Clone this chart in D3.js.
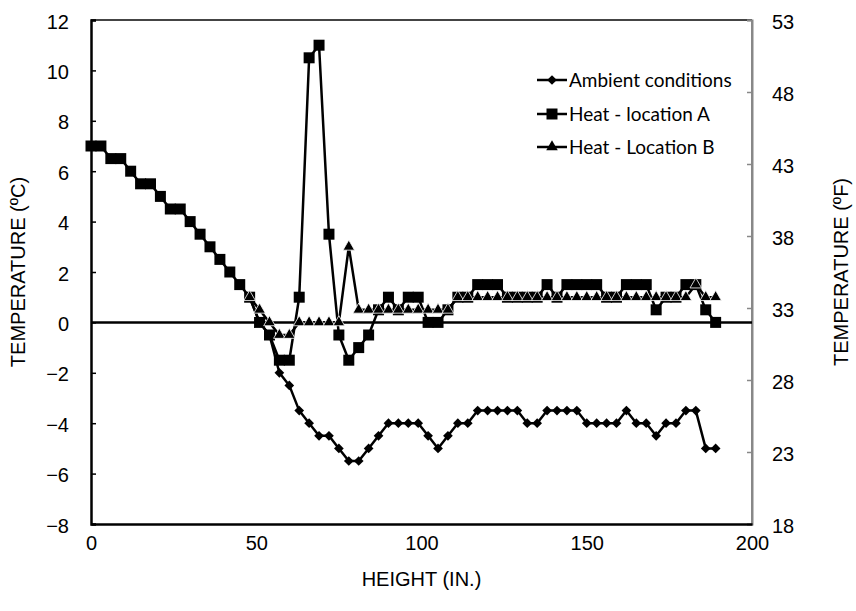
<!DOCTYPE html>
<html><head><meta charset="utf-8">
<script src="https://cdn.jsdelivr.net/npm/d3@7"></script>
<style>
body{margin:0;background:#fff;}
svg{display:block;}
</style></head>
<body>
<svg id="chart" width="856" height="611"></svg>
<script>
const heights = [0,3,6,9,12,15,18,21,24,27,30,33,36,39,42,45,48,51,54,57,60,63,66,69,72,75,78,81,84,87,90,93,96,99,102,105,108,111,114,117,120,123,126,129,132,135,138,141,144,147,150,153,156,159,162,165,168,171,174,177,180,183,186,189];
const ambient = [null,null,null,null,null,null,null,null,null,null,null,null,null,null,null,null,1,0,-0.5,-2,-2.5,-3.5,-4,-4.5,-4.5,-5,-5.5,-5.5,-5,-4.5,-4,-4,-4,-4,-4.5,-5,-4.5,-4,-4,-3.5,-3.5,-3.5,-3.5,-3.5,-4,-4,-3.5,-3.5,-3.5,-3.5,-4,-4,-4,-4,-3.5,-4,-4,-4.5,-4,-4,-3.5,-3.5,-5,-5];
const heatA = [7,7,6.5,6.5,6,5.5,5.5,5,4.5,4.5,4,3.5,3,2.5,2,1.5,1,0,-0.5,-1.5,-1.5,1,10.5,11,3.5,-0.5,-1.5,-1,-0.5,0.5,1,0.5,1,1,0,0,0.5,1,1,1.5,1.5,1.5,1,1,1,1,1.5,1,1.5,1.5,1.5,1.5,1,1,1.5,1.5,1.5,0.5,1,1,1.5,1.5,0.5,0];
const heatB = [null,null,null,null,null,null,null,null,null,null,null,null,null,null,null,null,1,0.5,0,-0.5,-0.5,0,0,0,0,0,3,0.5,0.5,0.5,0.5,0.5,0.5,0.5,0.5,0.5,0.5,1,1,1,1,1,1,1,1,1,1,1,1,1,1,1,1,1,1,1,1,1,1,1,1,1.5,1,1];
const seriesNames = ["Ambient conditions","Heat - location A","Heat - Location B"];
const xTicks = [0,50,100,150,200];
const yTicksC = [-8,-6,-4,-2,0,2,4,6,8,10,12];
const yTicksF = [18,23,28,33,38,43,48,53];

const svg = d3.select("#chart");
const L = 91, R = 752, T = 20, B = 524;
const x = d3.scaleLinear().domain([0,200]).range([L,R]);
const y = d3.scaleLinear().domain([-8,12]).range([B,T]);
const yF = d3.scaleLinear().domain([18,53]).range([B,T]);

const tickFont = "Arial, 'Liberation Sans', sans-serif";

svg.append("line").attr("x1",L).attr("x2",R).attr("y1",T).attr("y2",T).attr("stroke","#444").attr("stroke-width",2);
svg.append("line").attr("x1",R).attr("x2",R).attr("y1",T).attr("y2",B).attr("stroke","#888").attr("stroke-width",2);

const gL = svg.append("g").attr("transform",`translate(${L},0)`)
  .call(d3.axisLeft(y).tickValues(yTicksC).tickSize(-5).tickPadding(22).tickFormat(d3.format("d")));
gL.attr("font-family",tickFont);
gL.select(".domain").attr("stroke","#000").attr("stroke-width",2.5);
gL.selectAll(".tick line").attr("stroke","#000").attr("stroke-width",1.5);
gL.selectAll(".tick text").attr("font-family",tickFont).attr("font-size",20).attr("fill","#000").attr("dy","0.4em");

const gR = svg.append("g").attr("transform",`translate(${R},0)`)
  .call(d3.axisRight(yF).tickValues(yTicksF).tickSize(-5).tickPadding(20).tickFormat(d3.format("d")));
gR.attr("font-family",tickFont);
gR.select(".domain").attr("stroke","#888").attr("stroke-width",2);
gR.selectAll(".tick line").attr("stroke","#888").attr("stroke-width",1.5);
gR.selectAll(".tick text").attr("font-family",tickFont).attr("font-size",20).attr("fill","#000").attr("dy","0.4em");

const gB = svg.append("g").attr("transform",`translate(0,${B})`)
  .call(d3.axisBottom(x).tickValues(xTicks).tickSize(0).tickPadding(12).tickFormat(d3.format("d")));
gB.attr("font-family",tickFont);
gB.select(".domain").attr("stroke","#000").attr("stroke-width",2.5);
gB.selectAll(".tick text").attr("font-family",tickFont).attr("font-size",20).attr("fill","#000");

svg.append("line").attr("x1",L).attr("x2",R).attr("y1",y(0)).attr("y2",y(0)).attr("stroke","#000").attr("stroke-width",2.5);

svg.append("text").attr("x",(L+R)/2).attr("y",586).attr("text-anchor","middle")
  .attr("font-family",tickFont).attr("font-size",20).text("HEIGHT (IN.)");
svg.append("text").attr("transform",`translate(25,${(T+B)/2}) rotate(-90)`).attr("text-anchor","middle")
  .attr("font-family",tickFont).attr("font-size",20).text("TEMPERATURE  (ºC)");
svg.append("text").attr("transform",`translate(848,${(T+B)/2}) rotate(-90)`).attr("text-anchor","middle")
  .attr("font-family",tickFont).attr("font-size",20).text("TEMPERATURE  (ºF)");

const shapes = [
  d3.symbol().type(d3.symbolDiamond2).size(60),
  d3.symbol().type(d3.symbolSquare).size(121),
  d3.symbol().type(d3.symbolTriangle).size(58)
];
const data = [ambient, heatA, heatB];
const line = d3.line().defined(d => d[1] !== null).x(d => x(d[0])).y(d => y(d[1]));

data.forEach((vals,i) => {
  const pts = heights.map((h,j) => [h, vals[j]]);
  const g = svg.append("g");
  g.append("path").datum(pts).attr("d",line).attr("fill","none").attr("stroke","#000").attr("stroke-width",2.5).attr("stroke-linejoin","round");
  g.selectAll("path.m").data(pts.filter(d => d[1] !== null)).enter().append("path").attr("class","m")
    .attr("d",shapes[i]).attr("transform",d => `translate(${x(d[0])},${y(d[1])})`)
    .attr("fill","#000").attr("stroke", i===2 ? "#fff" : "none").attr("stroke-width",0.8);
});

const legY = [80,114,147];
seriesNames.forEach((n,i) => {
  const g = svg.append("g").attr("transform",`translate(0,${legY[i]})`);
  g.append("line").attr("x1",537).attr("x2",567).attr("y1",0).attr("y2",0).attr("stroke","#000").attr("stroke-width",2.5);
  g.append("path").attr("d",shapes[i]).attr("transform","translate(552,0)").attr("fill","#000");
  g.append("text").attr("x",569).attr("y",7).attr("font-family","Lato, 'Open Sans', sans-serif").attr("font-size",19).text(n);
});
</script>
</body></html>
